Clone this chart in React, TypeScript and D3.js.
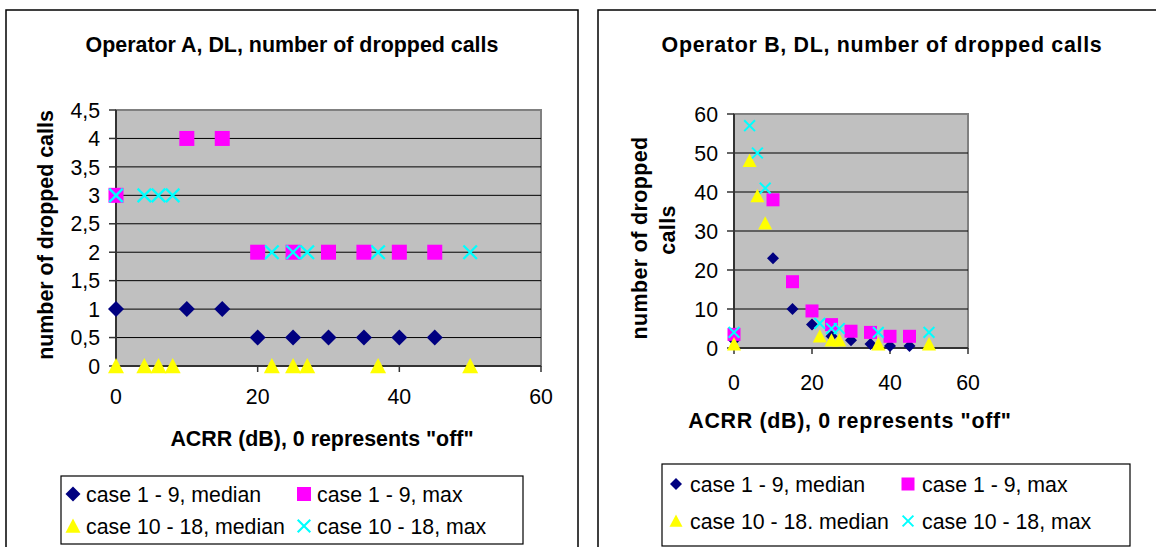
import React from "react";
import * as d3 from "d3";

// ---------- Data ----------
const seriesNames = [
  "case 1 - 9, median",
  "case 1 - 9, max",
  "case 10 - 18, median",
  "case 10 - 18, max",
];
const seriesNamesB = [
  "case 1 - 9, median",
  "case 1 - 9, max",
  "case 10 - 18. median",
  "case 10 - 18, max",
];

// Operator A
const xA_case1to9 = [0, 10, 15, 20, 25, 30, 35, 40, 45];
const yA_case1to9_median = [1, 1, 1, 0.5, 0.5, 0.5, 0.5, 0.5, 0.5];
const yA_case1to9_max = [3, 4, 4, 2, 2, 2, 2, 2, 2];
const xA_case10to18 = [0, 4, 6, 8, 22, 25, 27, 37, 50];
const yA_case10to18_median = [0, 0, 0, 0, 0, 0, 0, 0, 0];
const yA_case10to18_max = [3, 3, 3, 3, 2, 2, 2, 2, 2];

// Operator B
const xB_case1to9 = [0, 10, 15, 20, 25, 30, 35, 40, 45];
const yB_case1to9_median = [2, 23, 10, 6, 3, 2, 1, 0.5, 0.5];
const yB_case1to9_max = [3.5, 38, 17, 9.5, 6, 4.3, 4, 3, 3];
const xB_case10to18 = [0, 4, 6, 8, 22, 25, 27, 37, 50];
const yB_case10to18_median = [1, 48, 39, 32, 3, 2, 2, 1, 1];
const yB_case10to18_max = [4, 57, 50, 41, 6.3, 5, 5, 4, 4];

const xTicks = [0, 20, 40, 60];
const yTicksA = [0, 0.5, 1, 1.5, 2, 2.5, 3, 3.5, 4, 4.5];
const yTicksB = [0, 10, 20, 30, 40, 50, 60];

const colors = ["#000080", "#FF00FF", "#FFFF00", "#00FFFF"];
const shapes = ["diamond", "square", "triangle", "cross"];

const FONT = "'Liberation Sans', Arial, sans-serif";
const FS = 21.3;
const FSB = 21.4;

type Marker = { shape: string; color: string; size: number };

function MarkerShape({ x, y, m }: { x: number; y: number; m: Marker }) {
  const s = m.size;
  const h = s / 2;
  if (m.shape === "diamond") {
    return (
      <path
        d={`M${x},${y - h}L${x + h},${y}L${x},${y + h}L${x - h},${y}Z`}
        fill={m.color}
      />
    );
  }
  if (m.shape === "square") {
    return <rect x={x - h} y={y - h} width={s} height={s} fill={m.color} />;
  }
  if (m.shape === "triangle") {
    return (
      <path
        d={`M${x},${y - h}L${x + h},${y + h * 0.9}L${x - h},${y + h * 0.9}Z`}
        fill={m.color}
      />
    );
  }
  const c = h * 0.9;
  return (
    <path
      d={`M${x - c},${y - c}L${x + c},${y + c}M${x - c},${y + c}L${x + c},${y - c}`}
      stroke={m.color}
      strokeWidth={Math.max(2, s / 6.5)}
      fill="none"
    />
  );
}

type ChartProps = {
  frame: { x: number; y: number; w: number; h: number };
  plot: { x0: number; x1: number; y0: number; y1: number };
  yMax: number;
  yTicks: number[];
  yFmt: (v: number) => string;
  series: { xs: number[]; ys: number[] }[];
  names: string[];
  markerSizes: number[];
  legendMarkerSizes: number[];
  title: string;
  titleX: number;
  titleY: number;
  xTitleX: number;
  xTitleY: number;
  yLabelLines: string[];
  yLabelXs: number[];
  yLabelCYs: number[];
  yLabelSpacing: number;
  xTickY: number;
  yTickRight: number;
  legend: {
    x: number; y: number; w: number; h: number;
    col1: number; col2: number; row1: number; row2: number; textDx: number;
  };
  spacing: number;
};

function Chart(p: ChartProps) {
  const xs = d3.scaleLinear().domain([0, 60]).range([p.plot.x0, p.plot.x1]);
  const ys = d3.scaleLinear().domain([0, p.yMax]).range([p.plot.y1, p.plot.y0]);
  const { x0, x1, y0, y1 } = p.plot;
  const lg = p.legend;
  const legendPos = [
    [lg.col1, lg.row1],
    [lg.col2, lg.row1],
    [lg.col1, lg.row2],
    [lg.col2, lg.row2],
  ];
  return (
    <g fontFamily={FONT}>
      <rect
        x={p.frame.x}
        y={p.frame.y}
        width={p.frame.w}
        height={p.frame.h}
        fill="#fff"
        stroke="#000"
        strokeWidth={1.5}
      />
      <text
        x={p.titleX}
        y={p.titleY}
        textAnchor="middle"
        fontWeight="bold"
        fontSize={FSB}
        letterSpacing={p.spacing}
      >
        {p.title}
      </text>
      {/* plot area */}
      <rect x={x0} y={y0} width={x1 - x0} height={y1 - y0} fill="#C0C0C0" stroke="#808080" strokeWidth={2} />
      {p.yTicks.filter((t) => t > 0 && t < p.yMax).map((t) => (
        <line key={"g" + t} x1={x0} x2={x1} y1={ys(t)} y2={ys(t)} stroke="#000" strokeWidth={1} />
      ))}
      {/* axes */}
      <line x1={x0} x2={x0} y1={y0} y2={y1} stroke="#333" strokeWidth={2} />
      <line x1={x0} x2={x1} y1={y1} y2={y1} stroke="#333" strokeWidth={2} />
      {p.yTicks.map((t) => (
        <g key={"yt" + t}>
          <line x1={x0 - 7} x2={x0} y1={ys(t)} y2={ys(t)} stroke="#333" strokeWidth={1.5} />
          <text x={p.yTickRight} y={ys(t)} dy="0.36em" textAnchor="end" fontSize={FS}>
            {p.yFmt(t)}
          </text>
        </g>
      ))}
      {xTicks.map((t) => (
        <g key={"xt" + t}>
          <line x1={xs(t)} x2={xs(t)} y1={y1} y2={y1 + 6} stroke="#333" strokeWidth={1.5} />
          <text x={xs(t)} y={p.xTickY} textAnchor="middle" fontSize={FS}>
            {t}
          </text>
        </g>
      ))}
      {/* marks */}
      {p.series.map((s, si) => (
        <g key={"s" + si}>
          {s.xs.map((xv, i) => (
            <MarkerShape
              key={i}
              x={xs(xv)}
              y={ys(s.ys[i])}
              m={{ shape: shapes[si], color: colors[si], size: p.markerSizes[si] }}
            />
          ))}
        </g>
      ))}
      {/* axis titles */}
      <text
        x={p.xTitleX}
        y={p.xTitleY}
        textAnchor="middle"
        fontWeight="bold"
        fontSize={FSB}
        letterSpacing={p.spacing}
      >
        {'ACRR (dB), 0 represents "off"'}
      </text>
      {p.yLabelLines.map((ln, i) => (
        <text
          key={"yl" + i}
          transform={`translate(${p.yLabelXs[i]},${p.yLabelCYs[i]}) rotate(-90)`}
          textAnchor="middle"
          fontWeight="bold"
          fontSize={FSB}
          letterSpacing={p.yLabelSpacing}
        >
          {ln}
        </text>
      ))}
      {/* legend */}
      <rect x={lg.x} y={lg.y} width={lg.w} height={lg.h} fill="#fff" stroke="#000" strokeWidth={1.2} />
      {p.names.map((n, i) => (
        <g key={"lg" + i}>
          <MarkerShape
            x={legendPos[i][0]}
            y={legendPos[i][1]}
            m={{ shape: shapes[i], color: colors[i], size: p.legendMarkerSizes[i] }}
          />
          <text
            x={legendPos[i][0] + lg.textDx}
            y={legendPos[i][1]}
            dy="0.36em"
            fontSize={FS}
          >
            {n}
          </text>
        </g>
      ))}
    </g>
  );
}

const fmtA = (v: number) => String(v).replace(".", ",");
const fmtB = (v: number) => String(v);

export default function App() {
  return (
    <svg
      width={1156}
      height={547}
      style={{ position: "absolute", left: 0, top: 0, background: "#fff" }}
    >
      <Chart
        frame={{ x: 6, y: 10, w: 572, h: 545 }}
        plot={{ x0: 116, x1: 541, y0: 110, y1: 366 }}
        yMax={4.5}
        yTicks={yTicksA}
        yFmt={fmtA}
        series={[
          { xs: xA_case1to9, ys: yA_case1to9_median },
          { xs: xA_case1to9, ys: yA_case1to9_max },
          { xs: xA_case10to18, ys: yA_case10to18_median },
          { xs: xA_case10to18, ys: yA_case10to18_max },
        ]}
        names={seriesNames}
        markerSizes={[16, 15, 16, 15]}
        legendMarkerSizes={[15, 14, 15, 14]}
        title="Operator A, DL, number of dropped calls"
        titleX={292}
        titleY={52}
        xTitleX={322}
        xTitleY={446}
        yLabelLines={["number of dropped calls"]}
        yLabelXs={[53]}
        yLabelCYs={[235]}
        yLabelSpacing={0}
        xTickY={404}
        yTickRight={100}
        legend={{ x: 61, y: 476, w: 462, h: 68, col1: 73, col2: 304, row1: 494, row2: 526, textDx: 13 }}
        spacing={0}
      />
      <Chart
        frame={{ x: 598, y: 10, w: 600, h: 545 }}
        plot={{ x0: 734, x1: 968, y0: 114, y1: 348 }}
        yMax={60}
        yTicks={yTicksB}
        yFmt={fmtB}
        series={[
          { xs: xB_case1to9, ys: yB_case1to9_median },
          { xs: xB_case1to9, ys: yB_case1to9_max },
          { xs: xB_case10to18, ys: yB_case10to18_median },
          { xs: xB_case10to18, ys: yB_case10to18_max },
        ]}
        names={seriesNamesB}
        markerSizes={[12, 13, 14, 12]}
        legendMarkerSizes={[12, 13, 13, 12]}
        title="Operator B, DL, number of dropped calls"
        titleX={882}
        titleY={52}
        xTitleX={850}
        xTitleY={428}
        yLabelLines={["number of dropped", "calls"]}
        yLabelXs={[647, 675]}
        yLabelCYs={[238, 230]}
        yLabelSpacing={0.4}
        xTickY={390}
        yTickRight={718}
        legend={{ x: 662, y: 464, w: 468, h: 82, col1: 676, col2: 908, row1: 484, row2: 521, textDx: 14 }}
        spacing={0.7}
      />
    </svg>
  );
}
